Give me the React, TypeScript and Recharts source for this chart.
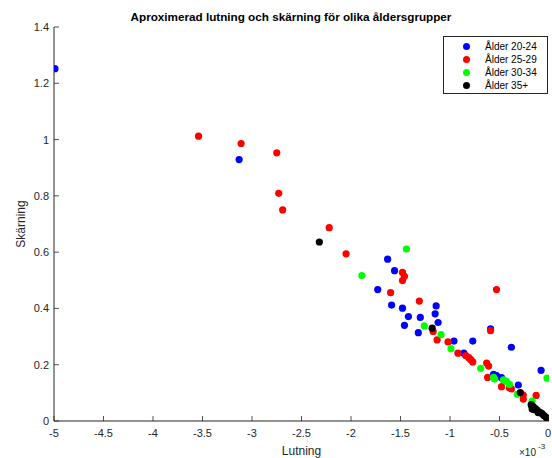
import { ScatterChart, Scatter, XAxis, YAxis, Legend } from 'recharts'

// lutning (x, in units of 1e-3) and skärning (y) per age group
const age2024: [number, number][] = [
  [-4.99, 1.252], [-3.13, 0.929], [-1.63, 0.575], [-1.56, 0.534], [-1.73, 0.467],
  [-1.59, 0.412], [-1.48, 0.401], [-1.42, 0.371], [-1.3, 0.368], [-1.46, 0.34],
  [-1.32, 0.314], [-1.14, 0.409], [-1.15, 0.381], [-1.12, 0.35], [-0.96, 0.284],
  [-0.77, 0.284], [-0.59, 0.327], [-0.38, 0.262], [-0.86, 0.241], [-0.08, 0.18],
  [-0.56, 0.166], [-0.53, 0.161], [-0.48, 0.154], [-0.31, 0.128],
]
const age2529: [number, number][] = [
  [-3.54, 1.012], [-3.11, 0.986], [-2.75, 0.953], [-2.73, 0.809], [-2.69, 0.75],
  [-2.22, 0.687], [-2.05, 0.594], [-1.48, 0.528], [-1.46, 0.514], [-1.48, 0.499],
  [-1.6, 0.456], [-1.31, 0.426], [-1.17, 0.318], [-1.13, 0.288], [-1.02, 0.281],
  [-0.53, 0.467], [-0.59, 0.321], [-0.92, 0.241], [-0.84, 0.232], [-0.81, 0.225],
  [-0.79, 0.218], [-0.77, 0.21], [-0.63, 0.206], [-0.61, 0.195], [-0.62, 0.155],
  [-0.48, 0.122], [-0.4, 0.118], [-0.38, 0.114], [-0.26, 0.092], [-0.26, 0.078],
  [-0.13, 0.091],
]
const age3034: [number, number][] = [
  [-1.44, 0.611], [-1.89, 0.517], [-1.26, 0.338], [-1.09, 0.307], [-0.99, 0.257],
  [-0.69, 0.187], [-0.02, 0.152], [-0.56, 0.155], [-0.55, 0.149], [-0.46, 0.146],
  [-0.43, 0.141], [-0.4, 0.13], [-0.32, 0.095], [-0.17, 0.071],
]
const age35: [number, number][] = [
  [-2.32, 0.636], [-1.18, 0.33], [-0.29, 0.101], [-0.18, 0.058], [-0.17, 0.05],
  [-0.17, 0.043], [-0.16, 0.051], [-0.15, 0.04], [-0.14, 0.045], [-0.12, 0.039],
  [-0.11, 0.03], [-0.09, 0.031], [-0.07, 0.026], [-0.05, 0.019], [-0.03, 0.013],
  [-0.01, 0.007], [0, 0.002],
]

const groups = [
  { name: 'Ålder 20-24', color: '#0000ff', points: age2024 },
  { name: 'Ålder 25-29', color: '#ff0000', points: age2529 },
  { name: 'Ålder 30-34', color: '#00ff00', points: age3034 },
  { name: 'Ålder 35+', color: '#000000', points: age35 },
]

const xTicks = [-5, -4.5, -4, -3.5, -3, -2.5, -2, -1.5, -1, -0.5, 0]
const yTicks = [0, 0.2, 0.4, 0.6, 0.8, 1, 1.2, 1.4]

const FONT = 'Liberation Sans, Arial, Helvetica, sans-serif'
const AXIS = '#262626'

const XTick = ({ x, y, payload }: any) => (
  <g>
    <line x1={x} x2={x} y1={y} y2={y - 5} stroke={AXIS} strokeWidth={0.8} />
    <text x={x} y={y + 16} textAnchor="middle" fontSize={11} fill={AXIS} fontFamily={FONT}>
      {String(payload.value)}
    </text>
  </g>
)

const YTick = ({ x, y, payload }: any) => (
  <g>
    <line x1={x} x2={x + 5} y1={y} y2={y} stroke={AXIS} strokeWidth={0.8} />
    <text x={x - 5} y={y + 4} textAnchor="end" fontSize={11} fill={AXIS} fontFamily={FONT}>
      {String(payload.value)}
    </text>
  </g>
)

const XLabel = ({ viewBox }: any) => {
  const { x, width } = viewBox
  return (
    <g fontFamily={FONT} fill={AXIS}>
      <text x={x + width / 2} y={455} textAnchor="middle" fontSize={12}>Lutning</text>
      <text x={519} y={456} fontSize={10}>×10</text>
      <text x={538} y={449} fontSize={8}>-3</text>
    </g>
  )
}

const YLabel = ({ viewBox }: any) => {
  const { y, height } = viewBox
  const cy = y + height / 2
  return (
    <text x={25} y={cy} transform={`rotate(-90 25 ${cy})`} textAnchor="middle"
      fontSize={12} fill={AXIS} fontFamily={FONT}>
      Skärning
    </text>
  )
}

const LegendBox = () => (
  <div style={{
    width: 105, height: 58, border: `1px solid ${AXIS}`, background: '#fff',
    fontFamily: FONT, fontSize: 10, color: '#000', boxSizing: 'border-box', paddingTop: 3,
  }}>
    {groups.map((g) => (
      <div key={g.name} style={{ display: 'flex', alignItems: 'center', height: 13 }}>
        <span style={{
          display: 'inline-block', width: 7, height: 7, borderRadius: '50%',
          background: g.color, marginLeft: 19, marginRight: 15,
        }} />
        <span>{g.name}</span>
      </div>
    ))}
  </div>
)

const dot = (color: string) => (props: any) =>
  <circle cx={props.cx} cy={props.cy} r={3.6} fill={color} />

export default function App() {
  return (
    <div style={{ position: 'relative', width: 552, height: 458, background: '#fff' }}>
      <style>{'body{margin:0}'}</style>
      <div style={{
        position: 'absolute', left: 41, width: 500, top: 10, textAlign: 'center',
        fontFamily: FONT, fontWeight: 'bold', fontSize: 11.7, color: '#000', zIndex: 2,
      }}>
        Aproximerad lutning och skärning för olika åldersgrupper
      </div>
      <ScatterChart width={552} height={458} margin={{ top: 27, right: 3, bottom: 0, left: 0 }}>
        <XAxis
          type="number" dataKey="x" domain={[-5, 0]} ticks={xTicks} height={37}
          allowDataOverflow stroke={AXIS} tickSize={0} tickMargin={0}
          tickLine={false} tick={<XTick />} label={<XLabel />}
        />
        <YAxis
          type="number" dataKey="y" domain={[0, 1.4]} ticks={yTicks} width={54}
          allowDataOverflow stroke={AXIS} tickSize={0} tickMargin={0}
          tickLine={false} tick={<YTick />} label={<YLabel />}
        />
        <Legend
          layout="horizontal" verticalAlign="middle" align="center"
          content={<LegendBox />}
          wrapperStyle={{ position: 'absolute', left: 443, top: 36, width: 105, height: 58 }}
        />
        {groups.map((g) => (
          <Scatter
            key={g.name} name={g.name}
            data={g.points.map(([x, y]) => ({ x, y }))}
            fill={g.color} shape={dot(g.color)} isAnimationActive={false}
          />
        ))}
      </ScatterChart>
    </div>
  )
}
